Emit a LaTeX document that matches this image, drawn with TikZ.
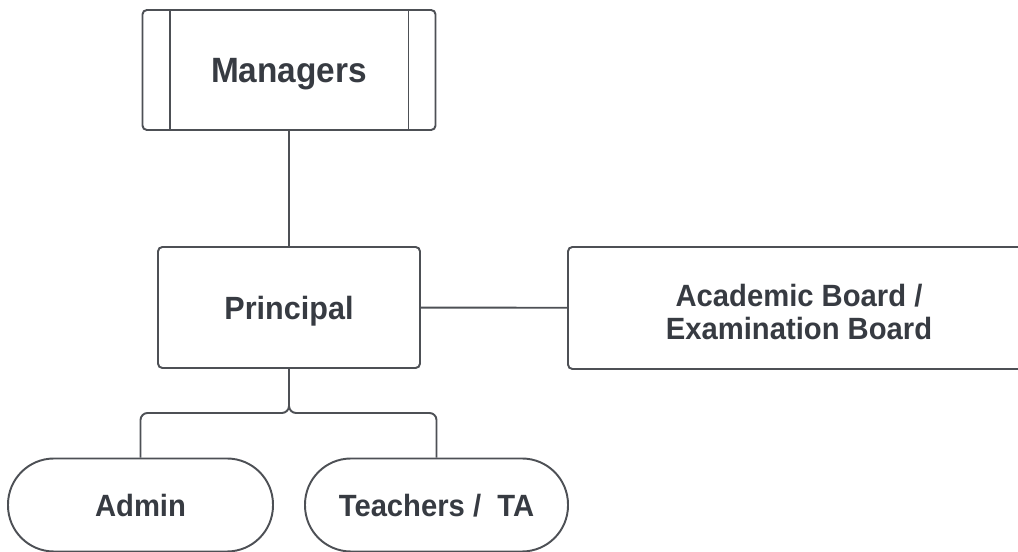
\documentclass[tikz,border=0pt]{standalone}
\usepackage{fontspec}
\setmainfont{Liberation Sans}[FakeStretch=0.95]
\usepackage{tikz}
\usetikzlibrary{positioning}

\definecolor{inkline}{HTML}{4D5055}
\definecolor{inktext}{HTML}{373B42}

\begin{document}
\begin{tikzpicture}[auto,
		line width=1.1pt, draw=inkline,
		box/.style={draw=inkline, rectangle, rounded corners=2.5pt, align=center,
			text=inktext, font=\fontsize{17.5}{19.3}\selectfont\bfseries, inner sep=0pt, text depth=0pt},
		pill/.style={box, rounded corners=0.92cm, minimum width=5.3cm, minimum height=1.86cm, text height=0.48cm}]
			\fill[white] (0,0) rectangle (20.36,11.04);
			\useasboundingbox (0,0) rectangle (20.36,11.04);

			\node[box, minimum width=5.86cm, minimum height=2.4cm, text height=0.52cm,
				font=\fontsize{20}{22}\selectfont\bfseries] (mgr) at (5.78, 9.64) {Managers};
			\node[box, minimum width=5.24cm, minimum height=2.42cm, text height=0.5cm,
				font=\fontsize{18.3}{20}\selectfont\bfseries] (princ) at (5.78, 4.89) {Principal};
			\node[box, minimum width=9.24cm, minimum height=2.44cm, text height=1.28cm] (board) at (15.98, 4.88) {Academic Board /\\Examination Board};
			\node[pill] (admin) at (2.81, 0.94) {Admin};
			\node[pill, minimum width=5.26cm] (teach) at (8.73, 0.94) {Teachers /\ \ TA};
			\coordinate (split) at (5.78, 2.78);

			\draw [-, inkline] ([xshift=0.56cm]mgr.north west) to ([xshift=0.56cm]mgr.south west);
			\draw [-, inkline] ([xshift=-0.56cm]mgr.north east) to ([xshift=-0.56cm]mgr.south east);

			\draw [-, inkline] (mgr) to (princ);
			\draw [-, inkline] (princ) to (board);
			\draw [-, inkline, rounded corners=4pt] (princ.south) -- (split) -| (admin.north);
			\draw [-, inkline, rounded corners=4pt] (princ.south) -- (split) -| (teach.north);
		\end{tikzpicture}
\end{document}
